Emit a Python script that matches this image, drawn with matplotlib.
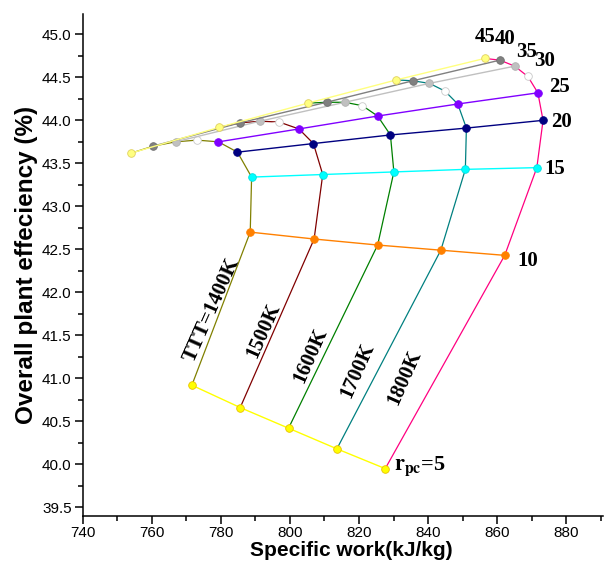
import numpy as np
import matplotlib.pyplot as plt
from matplotlib.ticker import MultipleLocator

# pressure ratio lines (rpc) and turbine inlet temperature curves (TTT)
rpc = [5, 10, 15, 20, 25, 30, 35, 40, 45]
ttt = [1400, 1500, 1600, 1700, 1800]

# specific work (kJ/kg): rows = rpc, columns = TTT
work = np.array([
    [771.6, 785.6, 799.6, 813.6, 827.6],
    [788.5, 807.0, 825.4, 843.7, 862.2],
    [788.9, 809.5, 830.1, 850.8, 871.5],
    [784.8, 806.8, 829.1, 851.1, 873.3],
    [779.3, 802.6, 825.4, 848.6, 871.8],
    [773.1, 796.9, 821.0, 844.9, 868.9],
    [766.9, 791.3, 815.9, 840.4, 865.1],
    [760.4, 785.4, 810.6, 835.6, 860.8],
    [754.1, 779.6, 805.2, 830.8, 856.4],
])

# overall plant efficiency (%)
eff = np.array([
    [40.92, 40.66, 40.42, 40.18, 39.95],
    [42.70, 42.62, 42.55, 42.49, 42.43],
    [43.34, 43.37, 43.40, 43.43, 43.45],
    [43.63, 43.73, 43.83, 43.91, 44.00],
    [43.75, 43.90, 44.05, 44.19, 44.32],
    [43.77, 43.98, 44.17, 44.34, 44.51],
    [43.75, 43.99, 44.21, 44.43, 44.63],
    [43.70, 43.97, 44.21, 44.46, 44.70],
    [43.62, 43.92, 44.20, 44.47, 44.72],
])

ttt_colors = ['#808000', '#800000', '#008000', '#008080', '#ff0080']
rpc_colors = ['#ffff00', '#ff8000', '#00ffff', '#000080', '#8000ff',
              '#ffffff', '#c0c0c0', '#808080', '#ffff80']
rpc_edges = ['#e8c000', '#ff8000', '#00e0e0', '#000080', '#8000ff',
             '#c8c8c8', '#b0b0b0', '#707070', '#e0d060']

fig = plt.figure(figsize=(6.04, 5.62), dpi=100)
ax = fig.add_axes([0.137, 0.082, 0.861, 0.893])

# TTT curves
for j, c in enumerate(ttt_colors):
    ax.plot(work[:, j], eff[:, j], color=c, lw=0.9, zorder=2)

# constant rpc lines with markers
for i in range(len(rpc)):
    ax.plot(work[i], eff[i], color=rpc_colors[i], lw=1.0, zorder=3,
            marker='o', ms=5.5, mfc=rpc_colors[i], mec=rpc_edges[i], mew=0.6)

ax.set_xlim(740, 890.6)
ax.set_ylim(39.4, 45.236)
ax.xaxis.set_major_locator(MultipleLocator(20))
ax.xaxis.set_minor_locator(MultipleLocator(10))
ax.set_yticks(np.arange(39.5, 45.01, 0.5))
ax.yaxis.set_minor_locator(MultipleLocator(0.25))
ax.yaxis.set_major_formatter(plt.FormatStrFormatter('%.1f'))

for s in ['top', 'right']:
    ax.spines[s].set_visible(False)
for s in ['left', 'bottom']:
    ax.spines[s].set_linewidth(1.1)
ax.tick_params(which='major', direction='out', length=6, width=1.1,
               labelsize=11, labelfontfamily='Liberation Sans')
ax.tick_params(axis='x', which='major', pad=1.5)
ax.tick_params(axis='y', which='major', pad=2)
ax.tick_params(which='minor', direction='out', length=3.5, width=1.1)

ax.set_xlabel('Specific work(kJ/kg)', fontsize=15, fontweight='bold',
              family='Liberation Sans')
ax.xaxis.set_label_coords(0.517, -0.049)
ax.set_ylabel('Overall plant effeciency (%)', fontsize=17.5, fontweight='bold',
              family='Liberation Sans', labelpad=3)

# rpc labels
serif = dict(family='Liberation Serif', fontweight='bold', fontsize=15)
ax.text(856.4, 44.97, '45', ha='center', va='center', **serif)
ax.text(862.2, 44.95, '40', ha='center', va='center', **serif)
ax.text(868.4, 44.80, '35', ha='center', va='center', **serif)
ax.text(873.6, 44.69, '30', ha='center', va='center', **serif)
ax.text(878.1, 44.39, '25', ha='center', va='center', **serif)
ax.text(878.5, 43.98, '20', ha='center', va='center', **serif)
ax.text(876.7, 43.43, '15', ha='center', va='center', **serif)
ax.text(868.9, 42.37, '10', ha='center', va='center', **serif)
ax.text(830.0, 39.98, r'$\mathbf{r_{pc}}$=5', ha='left', va='center',
        math_fontfamily='stix', family='Liberation Serif',
        fontweight='bold', fontsize=16)

# TTT labels
rot = 66
ax.text(777.3, 41.79, 'TTT=1400K', rotation=rot, ha='center', va='center', **serif)
ax.text(792.3, 41.56, '1500K', rotation=rot, ha='center', va='center', **serif)
ax.text(805.9, 41.27, '1600K', rotation=rot, ha='center', va='center', **serif)
ax.text(819.5, 41.09, '1700K', rotation=rot, ha='center', va='center', **serif)
ax.text(833.1, 41.01, '1800K', rotation=rot, ha='center', va='center', **serif)

plt.savefig('out.png', dpi=100)
